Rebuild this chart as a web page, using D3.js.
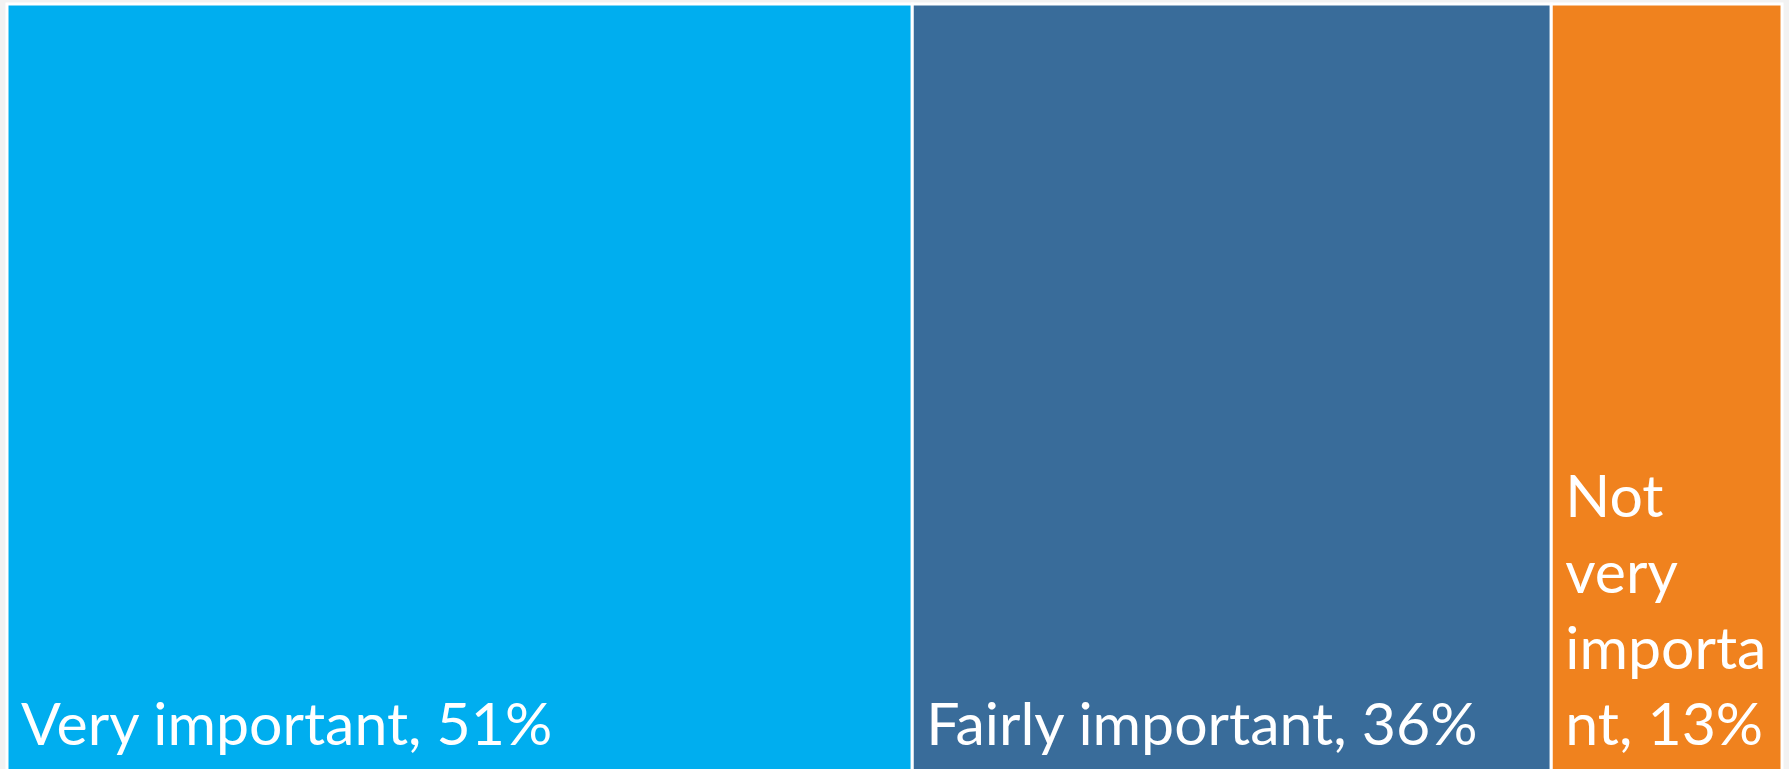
<!DOCTYPE html>
<meta charset="utf-8">
<head>
  <style>
    body {
      margin: 0;
      background: #f2f2f2;
    }
    svg {
      display: block;
    }
    .label {
      font-family: Lato, "Open Sans", sans-serif;
      font-size: 59px;
      fill: #fff;
    }
  </style>
</head>
<body>
<svg id="chart" width="1789" height="769"></svg>
<script src="https://d3js.org/d3.v7.min.js"></script>
<script>

var categories = ["Very important", "Fairly important", "Not very important"];
var shares = [51, 36, 13];

var color = d3.scaleOrdinal()
    .domain(categories)
    .range(["#00aeef", "#396c9a", "#f0821e"]);

var svg = d3.select("#chart");

// bottom edge sits just below the window, like the cropped original
var box = { x0: 7, y0: 4, x1: 1782, y1: 772 };
var padLeft = 14, padRight = 4, padBottom = 27, lineHeight = 76;

var root = d3.hierarchy({ children: categories.map(function(c, i) {
    return { name: c, value: shares[i] };
  }) })
  .sum(function(d) { return d.value; });

d3.treemap()
  .tile(d3.treemapDice)
  .size([box.x1 - box.x0, box.y1 - box.y0])
  (root);

var cell = svg.append("g")
    .attr("transform", "translate(" + box.x0 + "," + box.y0 + ")")
  .selectAll("g")
  .data(root.leaves())
  .enter().append("g");

cell.append("rect")
    .attr("x", function(d) { return d.x0; })
    .attr("y", function(d) { return d.y0; })
    .attr("width", function(d) { return d.x1 - d.x0; })
    .attr("height", function(d) { return d.y1 - d.y0; })
    .attr("fill", function(d) { return color(d.data.name); })
    .attr("stroke", "#fff")
    .attr("stroke-width", 3);

var text = cell.append("text")
    .attr("class", "label");

text.each(function(d) {
  var t = d3.select(this);
  var maxW = d.x1 - d.x0 - padLeft - padRight;
  var probe = t.append("tspan");
  function w(s) { probe.text(s); return probe.node().getComputedTextLength(); }

  // greedy wrap, breaking a word by characters when it is wider than the cell
  var words = (d.data.name + ", " + d.data.value + "%").split(" ");
  var lines = [], line = "";
  words.forEach(function(word) {
    var tryLine = line ? line + " " + word : word;
    if (w(tryLine) <= maxW) { line = tryLine; return; }
    if (line) lines.push(line);
    line = "";
    var rest = word;
    while (w(rest) > maxW) {
      var k = rest.length - 1;
      while (k > 1 && w(rest.slice(0, k)) > maxW) k--;
      lines.push(rest.slice(0, k));
      rest = rest.slice(k);
    }
    line = rest;
  });
  if (line) lines.push(line);
  probe.remove();

  var base = d.y1 - padBottom;
  lines.forEach(function(l, i) {
    t.append("tspan")
      .attr("x", d.x0 + padLeft)
      .attr("y", base - (lines.length - 1 - i) * lineHeight)
      .text(l);
  });
});

</script>
